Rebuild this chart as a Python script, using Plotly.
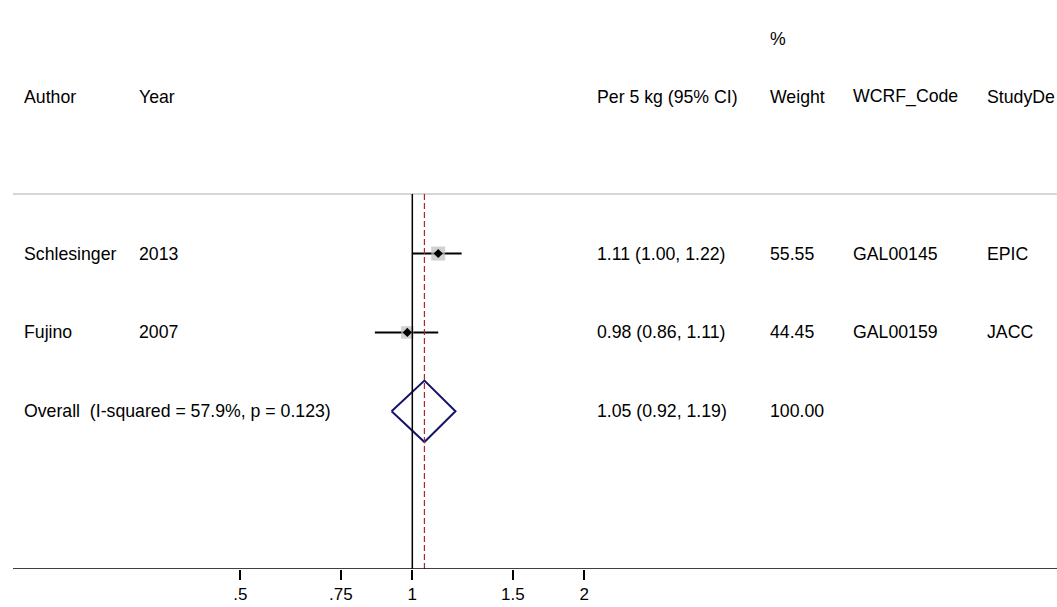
import plotly.graph_objects as go
import math

# ---- data ----
authors = ["Schlesinger", "Fujino"]
years = ["2013", "2007"]
es = [1.11, 0.98]
lo = [1.00, 0.86]
hi = [1.22, 1.11]
es_text = ["1.11 (1.00, 1.22)", "0.98 (0.86, 1.11)"]
weights = [55.55, 44.45]
weight_text = ["55.55", "44.45"]
codes = ["GAL00145", "GAL00159"]
designs = ["EPIC", "JACC"]

overall_label = "Overall  (I-squared = 57.9%, p = 0.123)"
overall_es = 1.05
overall_lo = 0.92
overall_hi = 1.19
overall_text = "1.05 (0.92, 1.19)"
overall_weight = "100.00"

tick_vals = [0.5, 0.75, 1, 1.5, 2]
tick_text = [".5", ".75", "1", "1.5", "2"]

headers = ["Author", "Year", "Per 5 kg (95% CI)", "Weight", "WCRF_Code", "StudyDe"]

# ---- layout constants ----
W, H = 1057, 607
FONT = "Liberation Sans, Arial, Helvetica, sans-serif"
FS = 17.7
row_y = [1, 2]
overall_y = 3
header_y = -0.99
pct_y = -1.72
top_line_y = 0.245
axis_y = 5.0
col_x_px = [23, 138, 596, 769, 852, 986]
col_x = [p / W for p in col_x_px]

fig = go.Figure()

# CI lines
for i in range(len(es)):
    fig.add_trace(go.Scatter(x=[lo[i], hi[i]], y=[row_y[i], row_y[i]], mode="lines",
                             line=dict(color="black", width=2), hoverinfo="skip", showlegend=False))

# weight squares
fig.add_trace(go.Scatter(x=es, y=row_y, mode="markers",
                         marker=dict(symbol="square", color="rgb(190,190,190)",
                                     size=[14 * math.sqrt(w / max(weights)) for w in weights],
                                     line=dict(width=0)),
                         hoverinfo="skip", showlegend=False))
# point estimates
fig.add_trace(go.Scatter(x=es, y=row_y, mode="markers",
                         marker=dict(symbol="diamond", color="black", size=7, line=dict(width=0)),
                         hoverinfo="skip", showlegend=False))

# overall diamond
dh = 0.39
fig.add_trace(go.Scatter(x=[overall_lo, overall_es, overall_hi, overall_es, overall_lo],
                         y=[overall_y, overall_y - dh, overall_y, overall_y + dh, overall_y],
                         mode="lines", line=dict(color="rgb(20,20,105)", width=2),
                         hoverinfo="skip", showlegend=False))

# null line x=1 and overall dashed line
fig.add_trace(go.Scatter(x=[1, 1], y=[top_line_y, axis_y], mode="lines",
                         line=dict(color="black", width=1.5), hoverinfo="skip", showlegend=False))
fig.add_trace(go.Scatter(x=[overall_es, overall_es], y=[top_line_y, axis_y], mode="lines",
                         line=dict(color="rgb(165,40,50)", width=1.2, dash="6px,3px"),
                         hoverinfo="skip", showlegend=False))

shapes = [
    dict(type="line", xref="paper", yref="y", x0=13 / W, x1=1, y0=top_line_y, y1=top_line_y,
         line=dict(color="rgb(200,200,200)", width=1.5), layer="below"),
    dict(type="line", xref="paper", yref="y", x0=13 / W, x1=1, y0=axis_y, y1=axis_y,
         line=dict(color="black", width=1.6)),
]

annotations = []

def txt(x, y, s):
    annotations.append(dict(x=x, y=y, xref="paper", yref="y", text=s, showarrow=False,
                            xanchor="left", yanchor="middle", borderpad=0,
                            font=dict(family=FONT, size=FS, color="black")))

# headers
txt(col_x[3], pct_y, "%")
for cx, h in zip(col_x, headers):
    txt(cx, header_y, h)

# study rows
for i in range(len(es)):
    txt(col_x[0], row_y[i], authors[i])
    txt(col_x[1], row_y[i], years[i])
    txt(col_x[2], row_y[i], es_text[i])
    txt(col_x[3], row_y[i], weight_text[i])
    txt(col_x[4], row_y[i], codes[i])
    txt(col_x[5], row_y[i], designs[i])

# overall row
txt(col_x[0], overall_y, overall_label)
txt(col_x[2], overall_y, overall_text)
txt(col_x[3], overall_y, overall_weight)

x0_log = -0.7216
x1_log = 1.1283

fig.update_layout(
    width=W, height=H,
    margin=dict(l=0, r=0, t=0, b=38, pad=0),
    paper_bgcolor="white", plot_bgcolor="white",
    showlegend=False,
    shapes=shapes, annotations=annotations,
    xaxis=dict(type="log", range=[x0_log, x1_log], showgrid=False, zeroline=False,
               showline=False, tickvals=tick_vals, ticktext=tick_text,
               ticks="outside", ticklen=10, tickwidth=1.5, tickcolor="black",
               tickfont=dict(family=FONT, size=17, color="black")),
    yaxis=dict(range=[5.0, -2.215], showgrid=False, zeroline=False, showline=False,
               showticklabels=False, ticks=""),
)

fig.write_html("out.html")
